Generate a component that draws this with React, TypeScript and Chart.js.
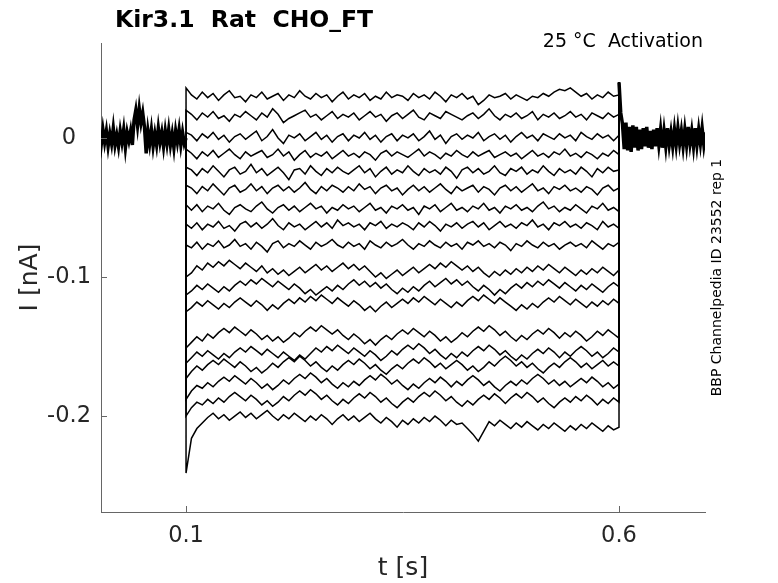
import { useEffect, useRef } from "react"
import { Chart, registerables } from "chart.js"
import type { Plugin } from "chart.js"

Chart.register(...registerables)

// sampling of the digitised sweeps (seconds)
const holdStep = 0.002
const stepStart = 0.1
const stepEnd = 0.6

// holding current before the step, all sweeps overlap here (nA)
const preCurrent = [
  0.004, -0.005, 0.006, -0.003, 0.005, -0.006, 0.003, -0.004, 0.007, -0.005,
  0.002, -0.006, 0.005, -0.003, 0.006, -0.007, 0.004, -0.002, 0.005, -0.005,
  0.013, 0.020, 0.009, 0.021, 0.011, 0.018, 0.008, -0.011,
  0.005, -0.004, 0.006, -0.006, 0.003, -0.005, 0.007, -0.003, 0.004, -0.006,
  0.005, -0.004, 0.006, -0.005, 0.003, -0.007, 0.005, -0.003, 0.006, -0.005,
  0.004, -0.004, 0.0,
]

// tail after the step back to holding (nA)
const postCurrent = [
  0.040, 0.018, 0.010, -0.008, 0.011, -0.009, 0.008, -0.010, 0.009, -0.007,
  0.008, -0.009, 0.006, -0.008, 0.007, -0.006, 0.008, -0.007, 0.005, -0.008,
  0.006, -0.006, 0.007, -0.005, 0.006, -0.007, 0.005, -0.006, 0.007, -0.005,
  0.004, -0.006, 0.006, -0.005, 0.007, -0.004, 0.005, -0.006, 0.006, -0.005,
  0.008, -0.004, 0.005, -0.006, 0.007, -0.005, 0.006, -0.004, 0.007, -0.005,
  0.004,
]

// current during the voltage step, one array per sweep (nA)
const trace01 = [
  0.036,
  0.031, 0.028, 0.033, 0.029, 0.032, 0.027, 0.031, 0.034, 0.029, 0.030,
  0.026, 0.031, 0.029, 0.033, 0.028, 0.030, 0.032, 0.027, 0.031, 0.029,
  0.034, 0.030, 0.028, 0.032, 0.029, 0.031, 0.026, 0.030, 0.033, 0.028,
  0.031, 0.029, 0.032, 0.027, 0.030, 0.028, 0.033, 0.029, 0.031, 0.030,
  0.027, 0.032, 0.029, 0.031, 0.028, 0.033, 0.030, 0.026, 0.031, 0.029,
  0.032, 0.028, 0.030, 0.024, 0.027, 0.031, 0.029, 0.030, 0.032, 0.028,
  0.031, 0.029, 0.027, 0.030, 0.029, 0.032, 0.030, 0.033, 0.035, 0.034,
  0.036, 0.033, 0.030, 0.032, 0.028, 0.031, 0.029, 0.033, 0.030, 0.031,
]
const trace02 = [
  0.020,
  0.017, 0.013, 0.018, 0.015, 0.019, 0.014, 0.016, 0.012, 0.017, 0.015,
  0.019, 0.016, 0.013, 0.018, 0.015, 0.021, 0.017, 0.011, 0.014, 0.016,
  0.018, 0.020, 0.015, 0.017, 0.013, 0.016, 0.019, 0.014, 0.017, 0.015,
  0.018, 0.013, 0.016, 0.019, 0.015, 0.017, 0.012, 0.016, 0.018, 0.014,
  0.017, 0.020, 0.015, 0.013, 0.018, 0.016, 0.014, 0.019, 0.017, 0.015,
  0.013, 0.016, 0.018, 0.014, 0.017, 0.021, 0.016, 0.013, 0.017, 0.015,
  0.018, 0.014, 0.016, 0.019, 0.013, 0.017, 0.015, 0.018, 0.014, 0.016,
  0.019, 0.015, 0.017, 0.013, 0.018, 0.016, 0.014, 0.018, 0.015, 0.017,
]
const trace03 = [
  0.004,
  0.002, -0.002, 0.003, 0.000, 0.004, -0.001, 0.002, -0.003, 0.001, 0.003,
  -0.001, 0.002, 0.005, -0.002, 0.001, 0.006, 0.000, -0.004, 0.002, 0.000,
  0.003, -0.002, 0.001, 0.004, -0.001, 0.002, -0.003, 0.001, 0.003, -0.002,
  0.002, 0.000, 0.004, -0.001, 0.002, -0.003, 0.001, 0.003, -0.002, 0.002,
  0.000, 0.003, -0.002, 0.001, 0.005, -0.001, 0.002, -0.004, 0.001, 0.003,
  -0.001, 0.002, 0.000, 0.004, -0.002, 0.001, 0.003, -0.001, 0.002, -0.003,
  0.001, 0.004, 0.000, 0.002, -0.002, 0.003, 0.001, -0.001, 0.003, 0.000,
  0.002, -0.002, 0.004, 0.001, -0.001, 0.003, 0.000, 0.002, -0.002, 0.002,
]
const trace04 = [
  -0.008,
  -0.011, -0.015, -0.010, -0.013, -0.009, -0.014, -0.011, -0.008, -0.012, -0.015,
  -0.010, -0.013, -0.011, -0.009, -0.014, -0.012, -0.008, -0.013, -0.010, -0.016,
  -0.012, -0.009, -0.014, -0.011, -0.013, -0.010, -0.015, -0.012, -0.009, -0.013,
  -0.011, -0.014, -0.010, -0.012, -0.016, -0.011, -0.009, -0.013, -0.010, -0.012,
  -0.014, -0.011, -0.008, -0.013, -0.010, -0.012, -0.015, -0.011, -0.013, -0.009,
  -0.012, -0.014, -0.010, -0.013, -0.011, -0.009, -0.014, -0.012, -0.010, -0.013,
  -0.011, -0.015, -0.012, -0.009, -0.013, -0.011, -0.014, -0.010, -0.012, -0.008,
  -0.013, -0.011, -0.014, -0.010, -0.012, -0.015, -0.011, -0.013, -0.009, -0.012,
]
const trace05 = [
  -0.021,
  -0.023, -0.027, -0.022, -0.025, -0.020, -0.024, -0.028, -0.023, -0.021, -0.026,
  -0.024, -0.019, -0.025, -0.022, -0.027, -0.024, -0.021, -0.025, -0.030, -0.023,
  -0.022, -0.026, -0.020, -0.024, -0.027, -0.022, -0.025, -0.021, -0.024, -0.026,
  -0.023, -0.020, -0.025, -0.022, -0.028, -0.024, -0.021, -0.026, -0.023, -0.025,
  -0.020, -0.024, -0.027, -0.022, -0.025, -0.023, -0.026, -0.021, -0.024, -0.029,
  -0.023, -0.021, -0.025, -0.022, -0.026, -0.024, -0.020, -0.025, -0.027, -0.022,
  -0.024, -0.021, -0.026, -0.023, -0.025, -0.020, -0.024, -0.027, -0.022, -0.025,
  -0.023, -0.026, -0.021, -0.024, -0.028, -0.022, -0.025, -0.021, -0.024, -0.023,
]
const trace06 = [
  -0.034,
  -0.036, -0.040, -0.035, -0.038, -0.033, -0.037, -0.041, -0.036, -0.034, -0.039,
  -0.037, -0.033, -0.038, -0.035, -0.040, -0.036, -0.034, -0.038, -0.035, -0.039,
  -0.036, -0.032, -0.037, -0.040, -0.035, -0.038, -0.034, -0.036, -0.039, -0.035,
  -0.038, -0.033, -0.037, -0.035, -0.040, -0.036, -0.034, -0.038, -0.036, -0.041,
  -0.037, -0.034, -0.038, -0.035, -0.039, -0.036, -0.033, -0.037, -0.040, -0.035,
  -0.038, -0.036, -0.034, -0.039, -0.035, -0.037, -0.041, -0.036, -0.034, -0.038,
  -0.035, -0.039, -0.036, -0.033, -0.038, -0.036, -0.040, -0.035, -0.037, -0.034,
  -0.038, -0.036, -0.039, -0.035, -0.037, -0.041, -0.036, -0.034, -0.038, -0.036,
]
const trace07 = [
  -0.048,
  -0.052, -0.048, -0.053, -0.049, -0.051, -0.047, -0.052, -0.055, -0.050, -0.048,
  -0.051, -0.053, -0.049, -0.046, -0.051, -0.054, -0.050, -0.048, -0.052, -0.049,
  -0.053, -0.050, -0.047, -0.051, -0.049, -0.054, -0.050, -0.052, -0.048, -0.051,
  -0.049, -0.053, -0.050, -0.047, -0.052, -0.050, -0.054, -0.049, -0.051, -0.048,
  -0.052, -0.050, -0.055, -0.049, -0.051, -0.048, -0.053, -0.050, -0.047, -0.052,
  -0.050, -0.053, -0.049, -0.051, -0.047, -0.052, -0.050, -0.054, -0.049, -0.051,
  -0.048, -0.052, -0.050, -0.053, -0.049, -0.046, -0.051, -0.049, -0.053, -0.050,
  -0.052, -0.048, -0.051, -0.054, -0.049, -0.051, -0.047, -0.052, -0.050, -0.053,
]
const trace08 = [
  -0.062,
  -0.065, -0.061, -0.066, -0.062, -0.064, -0.060, -0.065, -0.063, -0.067, -0.062,
  -0.060, -0.064, -0.061, -0.065, -0.062, -0.058, -0.063, -0.066, -0.061, -0.064,
  -0.062, -0.066, -0.063, -0.060, -0.064, -0.061, -0.065, -0.059, -0.063, -0.061,
  -0.064, -0.062, -0.066, -0.061, -0.063, -0.060, -0.065, -0.062, -0.064, -0.061,
  -0.063, -0.066, -0.061, -0.064, -0.060, -0.063, -0.067, -0.062, -0.064, -0.061,
  -0.065, -0.062, -0.060, -0.064, -0.061, -0.066, -0.063, -0.060, -0.064, -0.062,
  -0.065, -0.061, -0.063, -0.059, -0.064, -0.062, -0.066, -0.061, -0.063, -0.060,
  -0.064, -0.062, -0.065, -0.061, -0.063, -0.066, -0.060, -0.064, -0.062, -0.065,
]
const trace09 = [
  -0.077,
  -0.079, -0.075, -0.080, -0.076, -0.078, -0.074, -0.079, -0.077, -0.073, -0.078,
  -0.076, -0.080, -0.075, -0.078, -0.082, -0.076, -0.074, -0.079, -0.076, -0.078,
  -0.074, -0.077, -0.080, -0.075, -0.078, -0.076, -0.073, -0.077, -0.079, -0.075,
  -0.078, -0.076, -0.080, -0.074, -0.077, -0.079, -0.075, -0.078, -0.076, -0.073,
  -0.077, -0.080, -0.076, -0.078, -0.074, -0.077, -0.079, -0.075, -0.078, -0.076,
  -0.080, -0.075, -0.077, -0.074, -0.078, -0.076, -0.079, -0.075, -0.077, -0.081,
  -0.076, -0.078, -0.074, -0.077, -0.079, -0.075, -0.078, -0.076, -0.080, -0.077,
  -0.075, -0.078, -0.076, -0.079, -0.074, -0.077, -0.080, -0.076, -0.078, -0.075,
]
const trace10 = [
  -0.100,
  -0.097, -0.092, -0.095, -0.090, -0.093, -0.089, -0.092, -0.088, -0.091, -0.094,
  -0.090, -0.093, -0.096, -0.092, -0.097, -0.094, -0.098, -0.095, -0.099, -0.096,
  -0.093, -0.097, -0.094, -0.091, -0.095, -0.092, -0.096, -0.093, -0.090, -0.094,
  -0.091, -0.095, -0.092, -0.096, -0.100, -0.097, -0.101, -0.098, -0.095, -0.099,
  -0.096, -0.093, -0.097, -0.094, -0.091, -0.094, -0.090, -0.093, -0.089, -0.092,
  -0.095, -0.092, -0.096, -0.093, -0.097, -0.100, -0.096, -0.099, -0.095, -0.098,
  -0.094, -0.097, -0.093, -0.096, -0.092, -0.095, -0.091, -0.094, -0.097, -0.093,
  -0.096, -0.099, -0.095, -0.098, -0.094, -0.097, -0.093, -0.096, -0.099, -0.095,
]
const trace11 = [
  -0.113,
  -0.110, -0.106, -0.109, -0.105, -0.108, -0.111, -0.107, -0.110, -0.106, -0.103,
  -0.106, -0.102, -0.105, -0.101, -0.104, -0.107, -0.103, -0.106, -0.109, -0.105,
  -0.108, -0.112, -0.109, -0.113, -0.110, -0.107, -0.110, -0.106, -0.109, -0.105,
  -0.102, -0.106, -0.103, -0.107, -0.104, -0.108, -0.105, -0.109, -0.112, -0.108,
  -0.111, -0.107, -0.110, -0.106, -0.103, -0.107, -0.104, -0.101, -0.105, -0.102,
  -0.106, -0.103, -0.107, -0.110, -0.106, -0.109, -0.113, -0.109, -0.112, -0.108,
  -0.105, -0.108, -0.104, -0.107, -0.103, -0.106, -0.102, -0.105, -0.108, -0.104,
  -0.107, -0.110, -0.106, -0.109, -0.105, -0.108, -0.111, -0.107, -0.104, -0.107,
]
const trace12 = [
  -0.125,
  -0.122, -0.118, -0.121, -0.117, -0.120, -0.123, -0.119, -0.122, -0.118, -0.115,
  -0.118, -0.121, -0.117, -0.120, -0.124, -0.120, -0.123, -0.119, -0.116, -0.119,
  -0.115, -0.118, -0.114, -0.117, -0.113, -0.116, -0.119, -0.115, -0.118, -0.121,
  -0.117, -0.120, -0.124, -0.121, -0.125, -0.121, -0.118, -0.122, -0.119, -0.116,
  -0.119, -0.115, -0.118, -0.114, -0.117, -0.120, -0.116, -0.119, -0.122, -0.118,
  -0.121, -0.117, -0.114, -0.117, -0.113, -0.116, -0.119, -0.115, -0.118, -0.121,
  -0.124, -0.120, -0.123, -0.119, -0.122, -0.118, -0.115, -0.118, -0.114, -0.117,
  -0.120, -0.116, -0.119, -0.122, -0.118, -0.121, -0.117, -0.120, -0.116, -0.119,
]
const trace13 = [
  -0.151,
  -0.147, -0.143, -0.146, -0.141, -0.144, -0.140, -0.137, -0.140, -0.136, -0.139,
  -0.142, -0.138, -0.141, -0.145, -0.142, -0.146, -0.143, -0.147, -0.144, -0.140,
  -0.143, -0.139, -0.136, -0.139, -0.135, -0.138, -0.141, -0.138, -0.142, -0.145,
  -0.141, -0.144, -0.148, -0.145, -0.149, -0.145, -0.142, -0.145, -0.141, -0.138,
  -0.141, -0.137, -0.140, -0.143, -0.139, -0.142, -0.146, -0.143, -0.147, -0.144,
  -0.140, -0.143, -0.139, -0.136, -0.139, -0.135, -0.138, -0.142, -0.139, -0.143,
  -0.146, -0.142, -0.145, -0.141, -0.138, -0.141, -0.137, -0.140, -0.144, -0.140,
  -0.143, -0.139, -0.142, -0.146, -0.143, -0.139, -0.142, -0.138, -0.141, -0.144,
]
const trace14 = [
  -0.162,
  -0.158, -0.154, -0.157, -0.153, -0.156, -0.159, -0.155, -0.158, -0.154, -0.151,
  -0.154, -0.150, -0.153, -0.156, -0.152, -0.155, -0.158, -0.154, -0.157, -0.160,
  -0.156, -0.159, -0.155, -0.151, -0.154, -0.150, -0.153, -0.149, -0.152, -0.155,
  -0.151, -0.154, -0.157, -0.153, -0.156, -0.160, -0.157, -0.153, -0.156, -0.152,
  -0.149, -0.152, -0.148, -0.151, -0.155, -0.152, -0.156, -0.159, -0.155, -0.158,
  -0.154, -0.157, -0.153, -0.150, -0.153, -0.149, -0.152, -0.156, -0.153, -0.157,
  -0.160, -0.156, -0.159, -0.155, -0.152, -0.155, -0.151, -0.154, -0.158, -0.154,
  -0.157, -0.153, -0.150, -0.153, -0.157, -0.154, -0.158, -0.155, -0.151, -0.154,
]
const trace15 = [
  -0.173,
  -0.168, -0.164, -0.167, -0.163, -0.160, -0.163, -0.159, -0.162, -0.165, -0.161,
  -0.164, -0.168, -0.165, -0.169, -0.166, -0.162, -0.165, -0.161, -0.158, -0.161,
  -0.157, -0.160, -0.164, -0.161, -0.165, -0.168, -0.164, -0.167, -0.163, -0.160,
  -0.163, -0.159, -0.162, -0.166, -0.163, -0.167, -0.170, -0.166, -0.163, -0.166,
  -0.162, -0.159, -0.162, -0.158, -0.161, -0.165, -0.162, -0.166, -0.163, -0.160,
  -0.163, -0.167, -0.164, -0.168, -0.165, -0.161, -0.164, -0.160, -0.157, -0.160,
  -0.164, -0.161, -0.165, -0.162, -0.166, -0.169, -0.165, -0.162, -0.165, -0.161,
  -0.158, -0.161, -0.165, -0.162, -0.166, -0.163, -0.160, -0.164, -0.161, -0.164,
]
const trace16 = [
  -0.188,
  -0.182, -0.178, -0.180, -0.176, -0.179, -0.175, -0.172, -0.175, -0.171, -0.174,
  -0.177, -0.173, -0.176, -0.180, -0.177, -0.181, -0.178, -0.174, -0.177, -0.173,
  -0.170, -0.173, -0.169, -0.172, -0.176, -0.173, -0.177, -0.180, -0.176, -0.179,
  -0.175, -0.178, -0.174, -0.171, -0.174, -0.170, -0.173, -0.177, -0.174, -0.178,
  -0.181, -0.177, -0.180, -0.176, -0.173, -0.176, -0.172, -0.175, -0.179, -0.175,
  -0.178, -0.174, -0.171, -0.174, -0.178, -0.175, -0.179, -0.182, -0.178, -0.175,
  -0.178, -0.174, -0.177, -0.173, -0.170, -0.173, -0.177, -0.174, -0.178, -0.175,
  -0.179, -0.176, -0.173, -0.176, -0.172, -0.175, -0.179, -0.176, -0.180, -0.177,
]
const trace17 = [
  -0.200,
  -0.194, -0.190, -0.192, -0.188, -0.191, -0.187, -0.190, -0.186, -0.183, -0.186,
  -0.189, -0.185, -0.188, -0.192, -0.189, -0.193, -0.190, -0.186, -0.189, -0.185,
  -0.182, -0.185, -0.181, -0.184, -0.188, -0.185, -0.189, -0.192, -0.188, -0.191,
  -0.187, -0.184, -0.187, -0.183, -0.186, -0.190, -0.187, -0.191, -0.194, -0.190,
  -0.187, -0.190, -0.186, -0.183, -0.186, -0.182, -0.185, -0.189, -0.186, -0.190,
  -0.193, -0.189, -0.192, -0.188, -0.185, -0.188, -0.184, -0.187, -0.191, -0.187,
  -0.184, -0.187, -0.183, -0.186, -0.190, -0.187, -0.191, -0.194, -0.190, -0.187,
  -0.190, -0.186, -0.189, -0.185, -0.188, -0.192, -0.188, -0.191, -0.187, -0.190,
]
const trace18 = [
  -0.241,
  -0.216, -0.209, -0.205, -0.201, -0.198, -0.202, -0.199, -0.203, -0.200, -0.197,
  -0.201, -0.198, -0.202, -0.199, -0.196, -0.200, -0.203, -0.199, -0.202, -0.198,
  -0.201, -0.204, -0.200, -0.203, -0.199, -0.202, -0.206, -0.202, -0.199, -0.203,
  -0.200, -0.204, -0.201, -0.198, -0.202, -0.205, -0.201, -0.204, -0.208, -0.203,
  -0.206, -0.202, -0.205, -0.201, -0.204, -0.200, -0.203, -0.207, -0.203, -0.206,
  -0.205, -0.209, -0.213, -0.218, -0.211, -0.204, -0.207, -0.203, -0.206, -0.209,
  -0.205, -0.208, -0.204, -0.207, -0.210, -0.206, -0.209, -0.205, -0.208, -0.211,
  -0.207, -0.210, -0.206, -0.209, -0.205, -0.208, -0.211, -0.207, -0.210, -0.208,
]

const stepTraces = [
  trace01, trace02, trace03, trace04, trace05, trace06, trace07, trace08, trace09,
  trace10, trace11, trace12, trace13, trace14, trace15, trace16, trace17, trace18,
]

const xTicks = [0.1, 0.6]
const xTickLabels = ["0.1", "0.6"]
const yTicks = [0, -0.1, -0.2]
const yTickLabels = ["0", "-0.1", "-0.2"]

const FONT = "'DejaVu Sans', sans-serif"
const AXIS_COLOR = "#666666"
const TEXT_COLOR = "#262626"

// MATLAB look: inward ticks, labels and annotations
const matlabAxes: Plugin<"line"> = {
  id: "matlabAxes",
  afterDraw(chart) {
    const { ctx, chartArea } = chart
    const xs = chart.scales.x
    const ys = chart.scales.y
    ctx.save()

    ctx.strokeStyle = AXIS_COLOR
    ctx.lineWidth = 1
    ctx.beginPath()
    xTicks.forEach((v) => {
      const px = Math.round(xs.getPixelForValue(v)) + 0.5
      ctx.moveTo(px, chartArea.bottom)
      ctx.lineTo(px, chartArea.bottom - 6)
    })
    yTicks.forEach((v) => {
      const py = Math.round(ys.getPixelForValue(v)) + 0.5
      ctx.moveTo(chartArea.left, py)
      ctx.lineTo(chartArea.left + 6, py)
    })
    ctx.stroke()

    ctx.fillStyle = TEXT_COLOR
    ctx.font = `22.5px ${FONT}`
    ctx.textAlign = "center"
    ctx.textBaseline = "alphabetic"
    xTicks.forEach((v, i) => {
      ctx.fillText(xTickLabels[i], xs.getPixelForValue(v), chartArea.bottom + 30)
    })
    ctx.textBaseline = "middle"
    yTicks.forEach((v, i) => {
      ctx.fillText(yTickLabels[i], chartArea.left - 32, ys.getPixelForValue(v))
    })

    // axis titles
    ctx.font = `25px ${FONT}`
    ctx.textBaseline = "alphabetic"
    ctx.fillText("t [s]", (chartArea.left + chartArea.right) / 2, chartArea.bottom + 63)
    ctx.save()
    ctx.translate(37, (chartArea.top + chartArea.bottom) / 2)
    ctx.rotate(-Math.PI / 2)
    ctx.fillText("I [nA]", 0, 0)
    ctx.restore()

    // title and notes
    ctx.fillStyle = "#000000"
    ctx.font = `bold 23.5px ${FONT}`
    ctx.textAlign = "left"
    ctx.fillText("Kir3.1  Rat  CHO_FT", 115, 27)

    ctx.font = `19px ${FONT}`
    ctx.textAlign = "right"
    ctx.fillText("25 °C  Activation", 703, 47)

    ctx.font = `14px ${FONT}`
    ctx.textAlign = "center"
    ctx.save()
    ctx.translate(721, (chartArea.top + chartArea.bottom) / 2)
    ctx.rotate(-Math.PI / 2)
    ctx.fillText("BBP Channelpedia ID 23552 rep 1", 0, 0)
    ctx.restore()

    ctx.restore()
  },
}

export default function App() {
  const chartRef = useRef<HTMLCanvasElement>(null)
  const chartInstance = useRef<Chart | null>(null)

  useEffect(() => {
    if (!chartRef.current) return

    if (chartInstance.current) {
      chartInstance.current.destroy()
    }

    const ctx = chartRef.current.getContext("2d")
    if (!ctx) return

    const holdLevel = preCurrent[preCurrent.length - 1]
    const tailPeak = postCurrent[0]

    const sweeps = stepTraces.map((trace) => {
      const dt = (stepEnd - stepStart) / (trace.length - 1)
      return {
        data: [
          { x: stepStart, y: holdLevel },
          ...trace.map((v, i) => ({ x: stepStart + i * dt, y: v })),
          { x: stepEnd, y: tailPeak },
        ],
        borderWidth: 1.5,
      }
    })

    const datasets = [
      { data: preCurrent.map((v, i) => ({ x: i * holdStep, y: v })), borderWidth: 3.5 },
      { data: postCurrent.map((v, i) => ({ x: stepEnd + i * holdStep, y: v })), borderWidth: 3.5 },
      ...sweeps,
    ].map((ds) => ({
      ...ds,
      borderColor: "#000000",
      pointRadius: 0,
      fill: false,
      tension: 0,
    }))

    chartInstance.current = new Chart(ctx, {
      type: "line",
      data: { datasets },
      options: {
        animation: false,
        responsive: false,
        events: [],
        layout: {
          padding: { left: 101, right: 73, top: 43, bottom: 71 },
        },
        plugins: {
          legend: { display: false },
          tooltip: { enabled: false },
          title: { display: false },
        },
        scales: {
          x: {
            type: "linear",
            min: 0.0018,
            max: 0.6993,
            ticks: { display: false },
            grid: { display: false, drawTicks: false },
            border: { display: true, color: AXIS_COLOR, width: 1 },
          },
          y: {
            type: "linear",
            min: -0.269,
            max: 0.0683,
            ticks: { display: false },
            grid: { display: false, drawTicks: false },
            border: { display: true, color: AXIS_COLOR, width: 1 },
          },
        },
      },
      plugins: [matlabAxes],
    })

    return () => {
      if (chartInstance.current) {
        chartInstance.current.destroy()
        chartInstance.current = null
      }
    }
  }, [])

  return (
    <div style={{ position: "absolute", left: 0, top: 0, width: 778, height: 583, background: "#ffffff" }}>
      <canvas ref={chartRef} width={778} height={583} />
    </div>
  )
}
